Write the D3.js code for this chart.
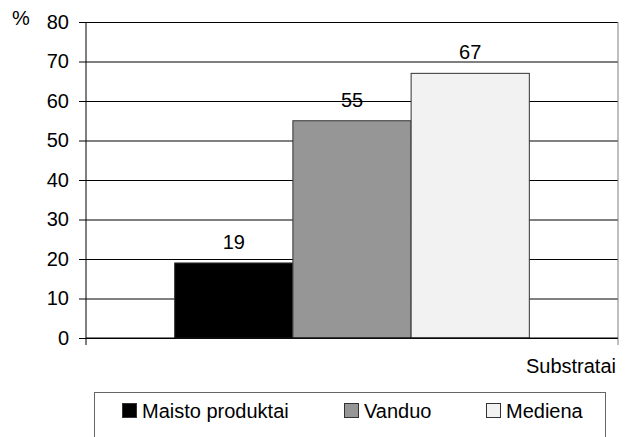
<!DOCTYPE html>
<html>
<head>
<meta charset="utf-8">
<script src="https://cdn.jsdelivr.net/npm/d3@7"></script>
<style>
    body { margin: 0; background: #fff; }
    svg { display: block; font-family: "Liberation Sans", Arial, sans-serif; }
    svg text { font-family: "Liberation Sans", Arial, sans-serif; }
    .tick text { font-size: 20px; fill: #000; }
</style>
</head>
<body>
<div id="chart"></div>
<script>
// data
const series = ["Maisto produktai", "Vanduo", "Mediena"];
const values = [19, 55, 67];
const colors = ["#000000", "#969696", "#f2f2f2"];
const yTicks = [0, 10, 20, 30, 40, 50, 60, 70, 80];

const width = 626, height = 437;
const plotLeft = 86, plotRight = 618, plotTop = 22, plotBottom = 338;

const svg = d3.select("#chart")
    .append("svg")
    .attr("width", width)
    .attr("height", height);

const y = d3.scaleLinear().domain([0, 80]).range([plotBottom, plotTop]);

// one group of bars, centred in the plot
const x0 = d3.scaleBand().domain(["g"]).range([plotLeft, plotRight]).paddingOuter(0.25);
const x1 = d3.scaleBand().domain(series).range([0, x0.bandwidth()]);

// gridlines
svg.append("g")
    .attr("transform", `translate(${plotLeft},0)`)
    .call(d3.axisLeft(y).tickValues(yTicks).tickSize(-(plotRight - plotLeft)).tickFormat(""))
    .call(g => g.select(".domain").remove())
    .selectAll("line").attr("stroke", "#000");

// bars
svg.append("g")
    .selectAll("rect")
    .data(values)
    .join("rect")
    .attr("x", (d, i) => x0("g") + x1(series[i]))
    .attr("y", d => y(d))
    .attr("width", x1.bandwidth())
    .attr("height", d => y(0) - y(d))
    .attr("fill", (d, i) => colors[i])
    .attr("stroke", "#333")
    .attr("stroke-width", 1);

// value labels
svg.append("g")
    .selectAll("text")
    .data(values)
    .join("text")
    .attr("x", (d, i) => x0("g") + x1(series[i]) + x1.bandwidth() / 2)
    .attr("y", d => y(d) - 14)
    .attr("text-anchor", "middle")
    .attr("font-size", 20)
    .text(d => d);

// right border
svg.append("line")
    .attr("x1", plotRight).attr("x2", plotRight)
    .attr("y1", plotTop).attr("y2", plotBottom + 7)
    .attr("stroke", "#808080");

// y axis
svg.append("g")
    .attr("transform", `translate(${plotLeft},0)`)
    .call(d3.axisLeft(y).tickValues(yTicks).tickSize(7).tickPadding(10).tickSizeOuter(0))
    .call(g => g.select(".domain").attr("d", `M0,${plotTop}V${plotBottom + 7}`));

// x axis line
svg.append("line")
    .attr("x1", plotLeft).attr("x2", plotRight)
    .attr("y1", plotBottom).attr("y2", plotBottom)
    .attr("stroke", "#000");

svg.append("text")
    .attr("x", 12).attr("y", 25)
    .attr("font-size", 20)
    .text("%");

svg.append("text")
    .attr("x", 616).attr("y", 373)
    .attr("text-anchor", "end")
    .attr("font-size", 20)
    .text("Substratai");

// legend
const legend = svg.append("g");
legend.append("rect")
    .attr("x", 94.5).attr("y", 392.5)
    .attr("width", 511).attr("height", 60)
    .attr("fill", "none")
    .attr("stroke", "#666");

const legendX = [122, 344, 486];
const item = legend.selectAll("g.item")
    .data(series)
    .join("g")
    .attr("class", "item")
    .attr("transform", (d, i) => `translate(${legendX[i]},0)`);

item.append("rect")
    .attr("x", 0.5).attr("y", 403.5)
    .attr("width", 14).attr("height", 14)
    .attr("fill", (d, i) => colors[i])
    .attr("stroke", "#333");

item.append("text")
    .attr("x", 20).attr("y", 418)
    .attr("font-size", 20)
    .text(d => d);
</script>
</body>
</html>
